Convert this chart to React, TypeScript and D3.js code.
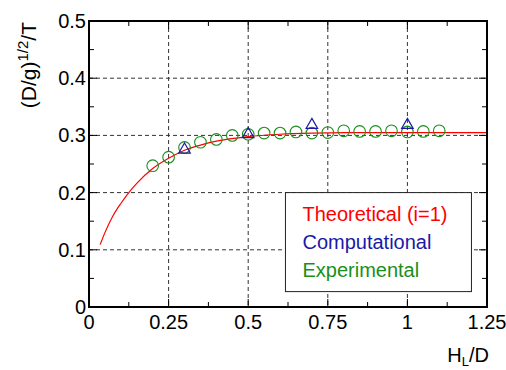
import React from 'react';
import * as d3 from 'd3';

// theoretical curve (i=1)
const theoX = [0.035, 0.05, 0.075, 0.1, 0.125, 0.15, 0.2, 0.25, 0.3, 0.35, 0.4, 0.5, 0.6, 0.7, 0.8, 1.0, 1.25];
const theoY = [0.109, 0.130, 0.159, 0.181, 0.200, 0.216, 0.242, 0.260, 0.274, 0.283, 0.290, 0.298, 0.302, 0.304, 0.305, 0.305, 0.305];

// computational (triangles)
const compX = [0.3, 0.5, 0.7, 1.0];
const compY = [0.275, 0.302, 0.318, 0.318];

// experimental (circles)
const expX = [0.2, 0.25, 0.3, 0.35, 0.4, 0.45, 0.5, 0.55, 0.6, 0.65, 0.7, 0.75, 0.8, 0.85, 0.9, 0.95, 1.0, 1.05, 1.1];
const expY = [0.247, 0.262, 0.279, 0.288, 0.293, 0.300, 0.302, 0.304, 0.304, 0.306, 0.304, 0.305, 0.308, 0.307, 0.307, 0.308, 0.306, 0.307, 0.308];

const xTicks = [0, 0.25, 0.5, 0.75, 1, 1.25];
const xTickLabels = ['0', '0.25', '0.5', '0.75', '1', '1.25'];
const yTicks = [0, 0.1, 0.2, 0.3, 0.4, 0.5];
const yTickLabels = ['0', '0.1', '0.2', '0.3', '0.4', '0.5'];
const xMinor = [0.125, 0.375, 0.625, 0.875, 1.125];
const yMinor = [0.05, 0.15, 0.25, 0.35, 0.45];

const legendLabels = ['Theoretical (i=1)', 'Computational', 'Experimental'];

const RED = '#ff0000';
const BLUE = '#1a1aa6';
const GREEN = '#1a8f1a';

export default function App() {
  const width = 506, height = 370;
  const margin = { top: 21, right: 19, bottom: 63, left: 89 };
  const w = width - margin.left - margin.right;
  const h = height - margin.top - margin.bottom;

  const x = d3.scaleLinear().domain([0, 1.25]).range([0, w]);
  const y = d3.scaleLinear().domain([0, 0.5]).range([h, 0]);

  const line = d3.line<number>()
    .x((d, i) => x(theoX[i]))
    .y(d => y(d))
    .curve(d3.curveMonotoneX);

  const tri = d3.symbol().type(d3.symbolTriangle).size(58)();

  const font = '"Liberation Sans", Arial, sans-serif';
  const fs = 20;

  return (
    <svg width={width} height={height} style={{ position: 'absolute', left: 0, top: 0, background: '#fff' }}
      fontFamily={font}>
      <g transform={`translate(${margin.left},${margin.top})`}>
        {/* grid */}
        <g stroke="#333" strokeWidth={1} strokeDasharray="4,3">
          {xTicks.slice(1, -1).map(t => (
            <line key={'gx' + t} x1={x(t)} x2={x(t)} y1={0} y2={h} />
          ))}
          {yTicks.slice(1, -1).map(t => (
            <line key={'gy' + t} x1={0} x2={w} y1={y(t)} y2={y(t)} />
          ))}
        </g>

        {/* ticks, inward on all sides */}
        <g stroke="#000" strokeWidth={1}>
          {xMinor.map(t => (
            <g key={'mx' + t}>
              <line x1={x(t)} x2={x(t)} y1={h} y2={h - 5} />
              <line x1={x(t)} x2={x(t)} y1={0} y2={5} />
            </g>
          ))}
          {yMinor.map(t => (
            <g key={'my' + t}>
              <line x1={0} x2={5} y1={y(t)} y2={y(t)} />
              <line x1={w} x2={w - 5} y1={y(t)} y2={y(t)} />
            </g>
          ))}
          {xTicks.map(t => (
            <g key={'Mx' + t}>
              <line x1={x(t)} x2={x(t)} y1={h} y2={h - 8} />
              <line x1={x(t)} x2={x(t)} y1={0} y2={8} />
            </g>
          ))}
          {yTicks.map(t => (
            <g key={'My' + t}>
              <line x1={0} x2={8} y1={y(t)} y2={y(t)} />
              <line x1={w} x2={w - 8} y1={y(t)} y2={y(t)} />
            </g>
          ))}
        </g>

        {/* theoretical */}
        <path d={line(theoY) || ''} fill="none" stroke={RED} strokeWidth={1.2} />

        {/* experimental */}
        {expX.map((v, i) => (
          <circle key={'e' + i} cx={x(v)} cy={y(expY[i])} r={5.8} fill="none" stroke={GREEN} strokeWidth={1.1} />
        ))}

        {/* computational */}
        {compX.map((v, i) => (
          <path key={'c' + i} d={tri || ''} transform={`translate(${x(v)},${y(compY[i])})`}
            fill="none" stroke={BLUE} strokeWidth={1.2} />
        ))}

        {/* frame */}
        <rect x={0} y={0} width={w} height={h} fill="none" stroke="#000" strokeWidth={2} />

        {/* tick labels */}
        <g fontSize={fs} fill="#000">
          {xTicks.map((t, i) => (
            <text key={'xl' + t} x={x(t)} y={h + 22} textAnchor="middle">{xTickLabels[i]}</text>
          ))}
          {yTicks.map((t, i) => (
            <text key={'yl' + t} x={-3} y={y(t) + 7} textAnchor="end">{yTickLabels[i]}</text>
          ))}
        </g>

        {/* legend */}
        <g transform={`translate(${x(0.617)},${y(0.2)})`}>
          <rect x={0} y={0} width={186} height={99} fill="#fff" stroke="#222" strokeWidth={1} />
          {legendLabels.map((s, i) => (
            <text key={s} x={17} y={28 + i * 28} fontSize={fs} fill={[RED, BLUE, GREEN][i]}>{s}</text>
          ))}
        </g>
      </g>

      {/* axis titles */}
      <text x={489} y={362} fontSize={fs} textAnchor="end">
        H<tspan fontSize={13} dy={4}>L</tspan><tspan dy={-4}>/D</tspan>
      </text>
      <text transform="translate(36,22) rotate(-90)" fontSize={21} textAnchor="end">
        (D/g)<tspan fontSize={15} dy={-8}>1/2</tspan><tspan dy={8}>/T</tspan>
      </text>
    </svg>
  );
}
